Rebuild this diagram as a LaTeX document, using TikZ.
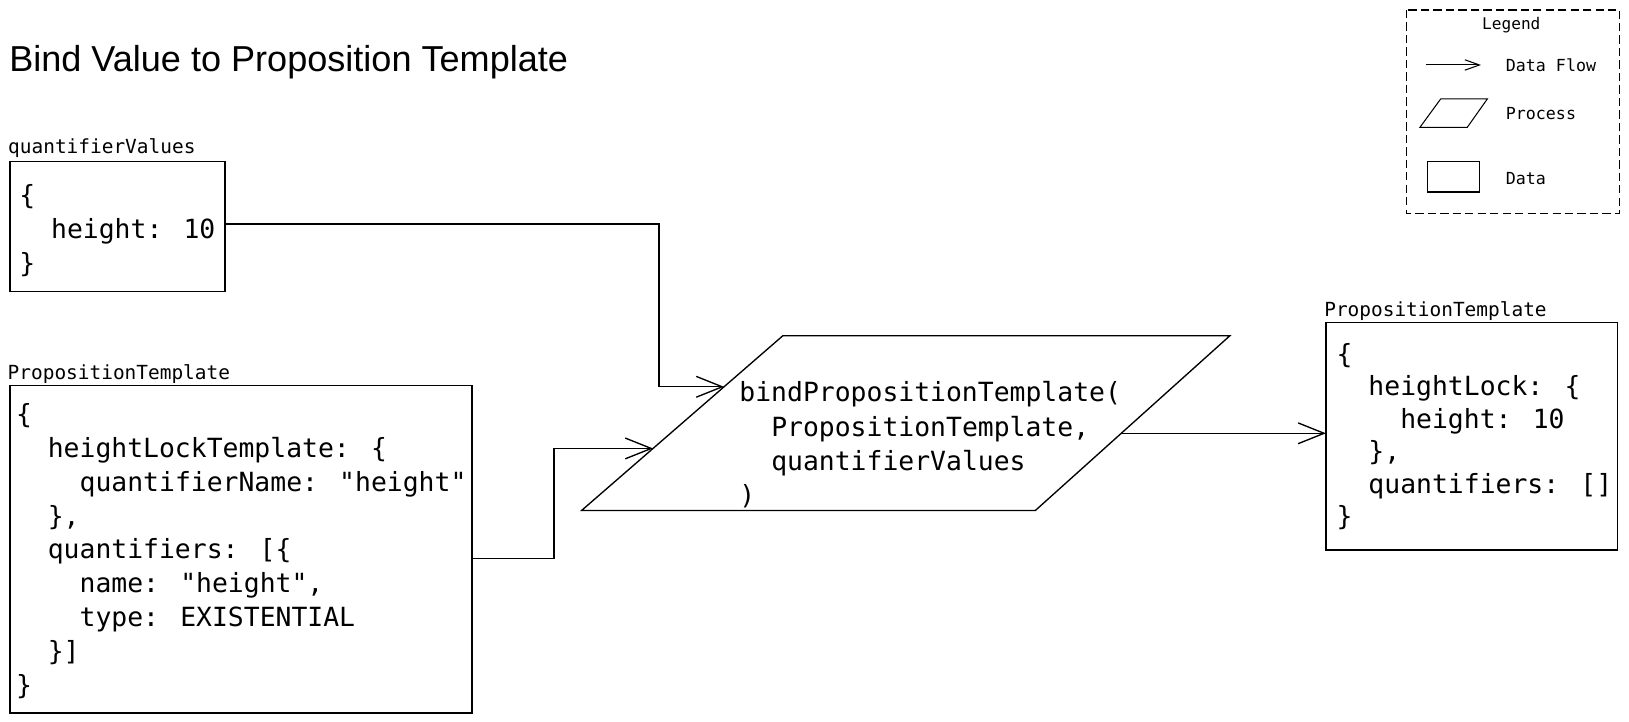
\documentclass[tikz,border=0pt]{standalone}
\usepackage{fontspec}
\setmainfont{Liberation Sans}
\newfontfamily\codefont{DejaVu Sans Mono}
\usetikzlibrary{arrows.meta,calc}

\begin{document}
\begin{tikzpicture}[x=1pt,y=-1pt,
  code/.style={anchor=base west, inner sep=0pt, font=\codefont\fontsize{25.4}{30}\selectfont},
  lbl/.style={anchor=base west, inner sep=0pt, font=\codefont\fontsize{18.7}{22}\selectfont},
  leg/.style={anchor=base west, inner sep=0pt, font=\codefont\fontsize{16}{19}\selectfont},
  databox/.style={draw, line width=1.3pt, inner sep=0pt, outer sep=0pt},
  flow/.style={draw, line width=1.3pt, -{Straight Barb[length=25pt,width=20pt]}},
  legflow/.style={draw, line width=1pt, -{Straight Barb[length=14pt,width=10pt]}},
  legshape/.style={draw, line width=1pt},
]
\fill[white] (0,0) rectangle (1567,694.5);
\useasboundingbox (0,0) rectangle (1567,694.5);

% title
\node[anchor=base west, inner sep=0pt, font=\fontsize{34.7}{40}\selectfont] (title) at (8.7,68.3) {Bind Value to Proposition Template};

% box 1: quantifierValues
\node[lbl] (lbl1) at (7.7,148.1) {quantifierValues};
\node[databox, minimum width=206.8pt, minimum height=125.1pt] (b1) at (113,218.05) {};
\node[code] (b1t1) at (18.4,196.8) {\{};
\node[code] (b1t2) at (49.0,229.3) {height: 10};
\node[code] (b1t3) at (18.4,261.8) {\}};

% box 2: PropositionTemplate (input)
\node[lbl] (lbl2) at (7.2,364.6) {PropositionTemplate};
\node[databox, minimum width=444.4pt, minimum height=315pt] (b2) at (231.8,528.5) {};
\node[code] (b2t1) at (15.2,407.4) {\{};
\node[code] (b2t2) at (45.8,439.95) {heightLockTemplate: \{};
\node[code] (b2t3) at (76.4,472.5) {quantifierName: "height"};
\node[code] (b2t4) at (45.8,505.05) {\},};
\node[code] (b2t5) at (45.8,537.6) {quantifiers: [\{};
\node[code] (b2t6) at (76.4,570.15) {name: "height",};
\node[code] (b2t7) at (76.4,602.7) {type: EXISTENTIAL};
\node[code] (b2t8) at (45.8,635.25) {\}]};
\node[code] (b2t9) at (15.2,667.8) {\}};

% process parallelogram
\coordinate (pTL) at (753,323);
\coordinate (pTR) at (1183,323);
\coordinate (pBR) at (996,491);
\coordinate (pBL) at (559.5,491);
\draw[line width=1.3pt] (pTL) -- (pTR) -- (pBR) -- (pBL) -- cycle;
\node[code] (pt1) at (711.1,386.4) {bindPropositionTemplate(};
\node[code] (pt2) at (741.7,419.4) {PropositionTemplate,};
\node[code] (pt3) at (741.7,452.4) {quantifierValues};
\node[code] (pt4) at (711.1,485.4) {)};

% box 3: PropositionTemplate (output)
\node[lbl] (lbl3) at (1273.7,304.6) {PropositionTemplate};
\node[databox, minimum width=280.5pt, minimum height=218.6pt] (b3) at (1415.75,419.7) {};
\node[code] (b3t1) at (1285.6,349.7) {\{};
\node[code] (b3t2) at (1316.2,380.9) {heightLock: \{};
\node[code] (b3t3) at (1346.8,412.1) {height: 10};
\node[code] (b3t4) at (1316.2,443.3) {\},};
\node[code] (b3t5) at (1316.2,474.5) {quantifiers: []};
\node[code] (b3t6) at (1285.6,505.7) {\}};

% connectors
\coordinate (a1end) at ($(pBL)!0.708!(pTL)$);
\coordinate (a2end) at ($(pBL)!0.355!(pTL)$);
\coordinate (a3start) at ($(pBR)!0.4417!(pTR)$);
\draw[flow] ([yshift=2.55pt]b1.east) -- ++(417.5,0) |- (a1end);
\draw[flow] ([yshift=-8.5pt]b2.east) -- ++(78.9,0) |- (a2end);
\draw[flow] (a3start) -- (a3start -| b3.west);

% legend
\draw[line width=1pt, dash pattern=on 8pt off 4pt] (1353,9.6) rectangle (1558.3,205.2);
\node[anchor=base, inner sep=0pt, font=\codefont\fontsize{15.5}{18}\selectfont] (legtitle) at (1453.8,28.2) {Legend};
\coordinate (lgA) at (1371.7,62.5);
\coordinate (lgB) at (1424.6,62.5);
\draw[legflow] (lgA) -- (lgB);
\node[leg] (legflowtxt) at (1448.4,69) {Data Flow};
\draw[legshape] (1385.8,95.2) -- (1430.7,95.2) -- (1411.4,122.5) -- (1365.9,122.5) -- cycle;
\node[leg] (legproc) at (1448.4,115.4) {Process};
\draw[legshape] (1373,155.8) rectangle (1423,184.7);
\node[leg] (legdata) at (1448.4,177) {Data};
\end{tikzpicture}
\end{document}
